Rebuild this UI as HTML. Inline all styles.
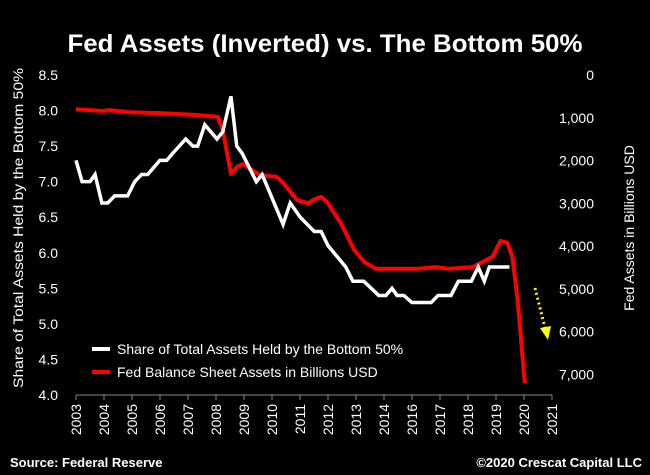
<!DOCTYPE html>
<html><head><meta charset="utf-8"><style>
html,body{margin:0;padding:0;background:#000;}
svg{display:block;font-family:"Liberation Sans",sans-serif;}
</style></head><body>
<svg id="chart" width="650" height="475" viewBox="0 0 650 475">
<rect width="650" height="475" fill="#000"/>
<text x="325" y="52" text-anchor="middle" fill="#fff" font-size="25" font-weight="bold" textLength="515" lengthAdjust="spacingAndGlyphs">Fed Assets (Inverted) vs. The Bottom 50%</text>
<g id="axes"></g>
<g id="marks"></g>
<text transform="translate(23,228) rotate(-90)" text-anchor="middle" fill="#fff" font-size="14" textLength="320" lengthAdjust="spacingAndGlyphs">Share of Total Assets Held by the Bottom 50%</text>
<text transform="translate(634,228) rotate(-90)" text-anchor="middle" fill="#fff" font-size="14">Fed Assets in Billions USD</text>
<g>
<line x1="92" y1="349" x2="110" y2="349" stroke="#fff" stroke-width="4"/>
<text x="117" y="354" fill="#fff" font-size="14">Share of Total Assets Held by the Bottom 50%</text>
<line x1="92" y1="372" x2="110" y2="372" stroke="#f00" stroke-width="4"/>
<text x="117" y="377" fill="#fff" font-size="14">Fed Balance Sheet Assets in Billions USD</text>
</g>
<g>
<line x1="535" y1="288" x2="545" y2="328" stroke="#ff0" stroke-width="3" stroke-dasharray="2,3"/>
<polygon points="540,328 551,326 548,340" fill="#ff0"/>
</g>
<text x="10" y="467" fill="#fff" font-size="13" font-weight="bold">Source: Federal Reserve</text>
<text x="642" y="467" text-anchor="end" fill="#fff" font-size="13" font-weight="bold">©2020 Crescat Capital LLC</text>
</svg>
<script>
const xLabels=["2003","2004","2005","2006","2007","2008","2009","2010","2011","2012","2013","2014","2016","2017","2018","2019","2020","2021"];
const leftTicks=[4.0,4.5,5.0,5.5,6.0,6.5,7.0,7.5,8.0,8.5];
const rightTicks=[0,1000,2000,3000,4000,5000,6000,7000];
const shareX=[2003.0,2003.23,2003.53,2003.72,2003.98,2004.2,2004.46,2004.95,2005.22,2005.48,2005.71,2006.17,2006.43,2006.66,2007.15,2007.42,2007.6,2007.87,2008.33,2008.55,2008.86,2009.08,2009.28,2009.82,2010.04,2010.83,2011.1,2011.48,2012.01,2012.27,2012.53,2013.2,2013.47,2013.88,2014.45,2014.72,2014.95,2015.14,2015.4,2015.7,2016.43,2016.69,2017.18,2017.46,2017.95,2018.21,2018.44,2018.63,2019.16,2019.39];
const shareV=[7.3,7.0,7.0,7.1,6.7,6.7,6.8,6.8,7.0,7.1,7.1,7.3,7.3,7.4,7.6,7.5,7.5,7.8,7.6,7.7,8.2,7.5,7.4,7.0,7.1,6.4,6.7,6.5,6.3,6.3,6.1,5.8,5.6,5.6,5.4,5.4,5.5,5.4,5.4,5.3,5.3,5.4,5.4,5.6,5.6,5.8,5.6,5.8,5.8,5.8];
const fedX=[2003.0,2004.0,2004.27,2005.03,2006.17,2007.42,2008.37,2008.55,2008.86,2009.08,2009.31,2009.95,2010.59,2010.83,2011.36,2011.78,2011.97,2012.27,2012.5,2013.03,2013.52,2013.9,2014.35,2015.3,2015.93,2016.6,2017.1,2018.0,2018.75,2019.05,2019.31,2019.5,2019.7,2019.97];
const fedV=[800,840,820,870,890,930,980,1290,2310,2150,2080,2340,2380,2520,2920,3000,2920,2850,2970,3480,4090,4370,4530,4530,4530,4490,4530,4490,4250,3880,3920,4250,5260,7200];
const X0=76,X1=552,YT=75,YB=395;
const xs=y=>X0+(y-2003)/(2021-2003)*(X1-X0);
const yl=v=>YB-(v-4.0)/(8.5-4.0)*(YB-YT);
const yr=v=>YT+v/7480*(YB-YT);
const NS="http://www.w3.org/2000/svg";
const ax=document.getElementById('axes'),mk=document.getElementById('marks');
function mkEl(t,a,p){const e=document.createElementNS(NS,t);for(const k in a)e.setAttribute(k,a[k]);p.appendChild(e);return e;}
let base=mkEl('line',{x1:X0,y1:YB,x2:X1,y2:YB,stroke:'#888','stroke-width':1},ax);


xLabels.forEach((l,i)=>{const x=X0+i*(X1-X0)/(xLabels.length-1);
 const t=mkEl('line',{x1:x,y1:YB,x2:x,y2:YB+5,stroke:'#888'},ax);
 
 
 const tx=mkEl('text',{transform:`translate(${x+5},${YB+9}) rotate(-90)`,'text-anchor':'end',fill:'#fff','font-size':'14'},ax);
 tx.textContent=l;
 
 });
leftTicks.forEach(v=>{const t=mkEl('text',{x:58,y:yl(v)+5,'text-anchor':'end',fill:'#fff','font-size':'14'},ax);
 t.textContent=v.toFixed(1);
 
 });
rightTicks.forEach(v=>{const t=mkEl('text',{x:594,y:yr(v)+5,'text-anchor':'end',fill:'#fff','font-size':'14'},ax);
 t.textContent=v.toLocaleString('en-US');
 
 });
const fp=mkEl('polyline',{points:fedX.map((x,i)=>xs(x)+','+yr(fedV[i])).join(' '),fill:'none',stroke:'#f00','stroke-width':4,'stroke-linejoin':'round'},mk);


const sp=mkEl('polyline',{points:shareX.map((x,i)=>xs(x)+','+yl(shareV[i])).join(' '),fill:'none',stroke:'#fff','stroke-width':3.5,'stroke-linejoin':'miter'},mk);


</script>
</body></html>
